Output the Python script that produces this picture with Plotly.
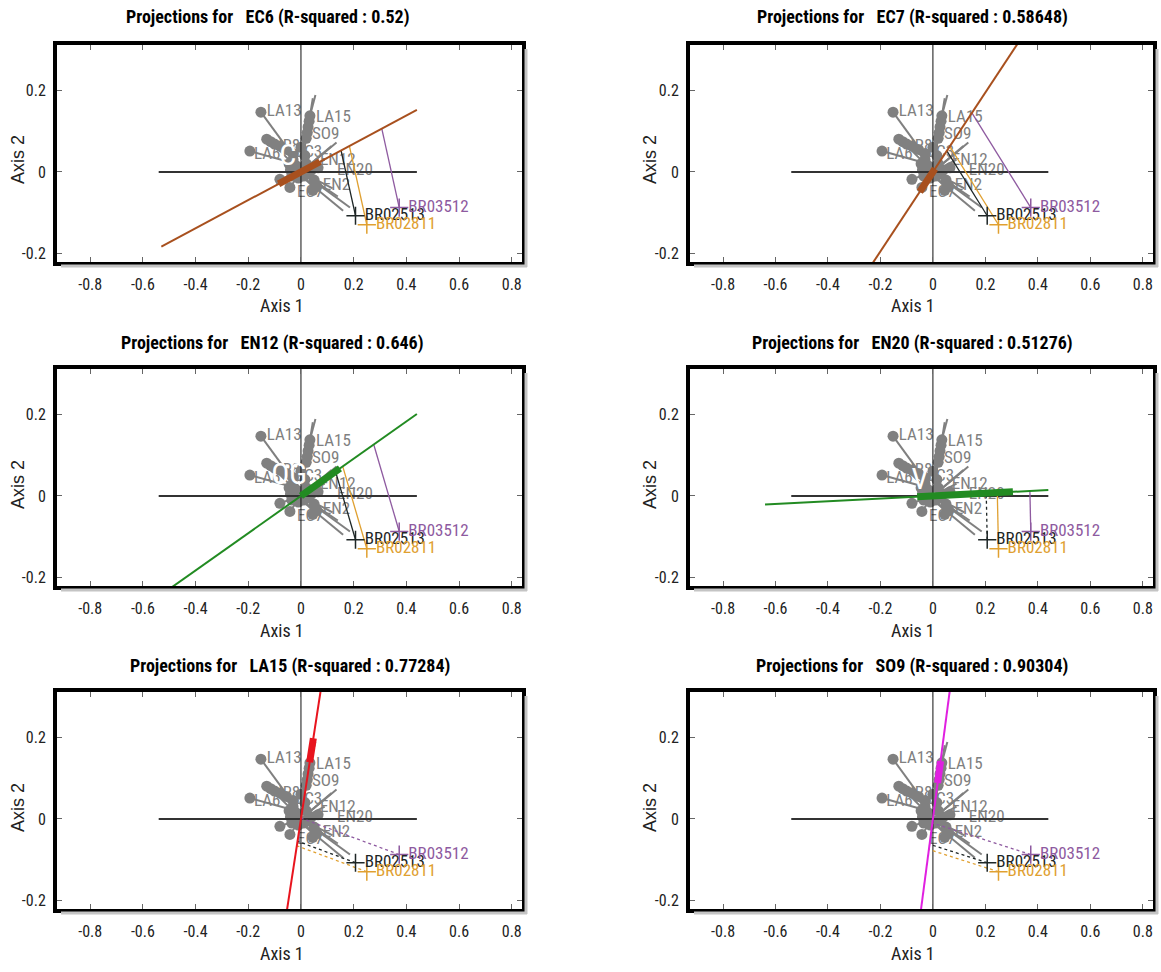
import plotly.graph_objects as go

# ---- panel definitions -------------------------------------------------
panel_vars = ["EC6", "EC7", "EN12", "EN20", "LA15", "SO9"]
r_squared = ["0.52", "0.58648", "0.646", "0.51276", "0.77284", "0.90304"]
axis_slopes = [0.344, 0.97, 0.455, 0.033, 4.19, 4.87]
line_colors = ["#A8501E", "#A8501E", "#228B22", "#228B22", "#E8141E", "#E020E0"]
line_x_start = [-0.53, -0.53, -0.54, -0.64, -0.06, -0.05]
line_x_end = [0.44, 0.44, 0.44, 0.44, 0.08, 0.07]
thick_x_start = [-0.085, -0.05, 0.0, -0.06, 0.033, 0.018]
thick_x_end = [0.072, 0.008, 0.148, 0.305, 0.047, 0.029]
proj_dash = [
    ["solid", "solid", "solid"],
    ["solid", "solid", "solid"],
    ["solid", "solid", "solid"],
    ["dot", "solid", "solid"],
    ["dot", "dot", "dot"],
    ["dot", "dot", "dot"],
]
white_text = ["C", "", "OG", "V", "", ""]
white_x = [-0.05, 0, -0.045, -0.05, 0, 0]
white_y = [0.035, 0, 0.047, 0.035, 0, 0]

# ---- samples -----------------------------------------------------------
sample_names = ["BR02513", "BR02811", "BR03512"]
sample_x = [0.207, 0.250, 0.373]
sample_y = [-0.107, -0.129, -0.087]
sample_colors = ["#1E2626", "#E0A030", "#8E5AA0"]

# ---- variable cloud (grey) ----------------------------------------------
circle_x = [-0.152, 0.034, 0.031, 0.027, 0.024, 0.020, -0.130, -0.115, -0.100,
            -0.080, -0.194, -0.080, -0.042, -0.030, -0.025, -0.020, -0.010,
            0.010, 0.020, 0.040, 0.050, 0.060, -0.035, -0.030, 0.015, -0.055,
            -0.045, 0.000, 0.045, -0.040, -0.015, 0.030, 0.065]
circle_y = [0.146, 0.137, 0.124, 0.110, 0.096, 0.082, 0.080, 0.074, 0.068,
            0.063, 0.051, -0.018, -0.038, 0.030, 0.015, 0.000, -0.015,
            -0.010, 0.020, 0.005, -0.020, -0.035, -0.010, 0.045, 0.040, 0.055,
            0.020, 0.060, -0.045, 0.005, 0.010, -0.005, 0.010]
seg_x0 = [-0.152, 0.034, 0.030, 0.028, -0.130, -0.111, -0.080, -0.194, -0.080,
          -0.042, 0.000, 0.000, 0.000, 0.000, 0.000, 0.000, 0.000, 0.000, 0.000]
seg_y0 = [0.146, 0.137, 0.120, 0.118, 0.080, 0.072, 0.063, 0.051, -0.018,
          -0.038, 0.000, 0.000, 0.000, -0.010, 0.000, 0.000, 0.000, 0.000, 0.000]
seg_x1 = [-0.020, 0.055, 0.045, 0.000, 0.000, 0.000, 0.000, -0.020, 0.000,
          0.000, 0.135, 0.116, 0.186, 0.160, 0.200, 0.120, 0.090, 0.140, 0.060]
seg_y1 = [0.030, 0.188, 0.180, 0.000, 0.020, 0.000, 0.010, 0.020, 0.000,
          0.000, 0.072, 0.063, -0.087, -0.095, 0.000, -0.040, 0.030, -0.060, -0.050]
var_labels = ["LA13", "LA15", "SO9", "IR8", "EC3", "LA6", "EN12", "EN20", "EN2", "EC7"]
var_label_x = [-0.130, 0.057, 0.042, -0.085, -0.020, -0.178, 0.072, 0.137, 0.083, -0.015]
var_label_y = [0.147, 0.133, 0.092, 0.062, 0.047, 0.042, 0.027, 0.002, -0.034, -0.052]

x_ticks = [-0.8, -0.6, -0.4, -0.2, 0, 0.2, 0.4, 0.6, 0.8]
x_tick_text = ["-0.8", "-0.6", "-0.4", "-0.2", "0", "0.2", "0.4", "0.6", "0.8"]
y_ticks = [-0.2, 0, 0.2]
y_tick_text = ["-0.2", "0", "0.2"]

X_RANGE = [-0.926, 0.839]
Y_RANGE = [-0.22, 0.31]
H_LINE = [-0.54, 0.44]

# ---- layout geometry ----------------------------------------------------
W, H = 1161, 972
col_px = [(57, 522), (690, 1153)]
row_px = [(45, 262), (369, 586), (692, 909)]
title_cx = [268, 912, 272, 912, 290, 912]
axis1_cx = [282, 913]
row_title_y = [17, 343, 666]
row_axis1_y = [305, 630, 953]
row_axis2_y = [160, 485, 808]
axis2_cx = [18, 650]

FONT = "Roboto Condensed, Liberation Sans Narrow, sans-serif"
GREY = "#808080"

fig = go.Figure()
annotations = []
shapes = []

for i, var in enumerate(panel_vars):
    r, c = divmod(i, 2)
    n = i + 1
    xa = "x" if n == 1 else f"x{n}"
    ya = "y" if n == 1 else f"y{n}"
    kw = dict(xaxis=xa, yaxis=ya, showlegend=False, hoverinfo="skip")

    # grey variable segments
    gx, gy = [], []
    for a, b, cc, d in zip(seg_x0, seg_y0, seg_x1, seg_y1):
        gx += [a, cc, None]
        gy += [b, d, None]
    fig.add_trace(go.Scatter(x=gx, y=gy, mode="lines",
                             line=dict(color=GREY, width=2), **kw))
    # grey labels
    fig.add_trace(go.Scatter(x=var_label_x, y=var_label_y, mode="text",
                             text=var_labels, textposition="middle right",
                             textfont=dict(family=FONT, size=17, color=GREY), **kw))
    # grey circles
    fig.add_trace(go.Scatter(x=circle_x, y=circle_y, mode="markers",
                             marker=dict(color=GREY, size=11, line=dict(width=0)), **kw))

    # reference axes inside the plot
    fig.add_trace(go.Scatter(x=H_LINE, y=[0, 0], mode="lines",
                             line=dict(color="#333333", width=2), **kw))
    fig.add_trace(go.Scatter(x=[0, 0], y=Y_RANGE, mode="lines",
                             line=dict(color="#111111", width=1), **kw))

    s = axis_slopes[i]
    col = line_colors[i]
    # projections of samples onto the variable direction
    for k in range(len(sample_names)):
        px, py = sample_x[k], sample_y[k]
        t = (px + s * py) / (1 + s * s)
        fig.add_trace(go.Scatter(x=[px, t], y=[py, s * t], mode="lines",
                                 line=dict(color=sample_colors[k], width=1.3,
                                           dash=proj_dash[i][k]), **kw))

    # variable direction line and its thick arrow part
    fig.add_trace(go.Scatter(x=[line_x_start[i], line_x_end[i]],
                             y=[s * line_x_start[i], s * line_x_end[i]],
                             mode="lines", line=dict(color=col, width=2), **kw))
    fig.add_trace(go.Scatter(x=[thick_x_start[i], thick_x_end[i]],
                             y=[s * thick_x_start[i], s * thick_x_end[i]],
                             mode="lines", line=dict(color=col, width=7), **kw))

    if white_text[i]:
        fig.add_trace(go.Scatter(x=[white_x[i]], y=[white_y[i]], mode="text",
                                 text=[white_text[i]],
                                 textfont=dict(family=FONT, size=30, color="white"), **kw))

    # samples
    fig.add_trace(go.Scatter(x=sample_x, y=sample_y, mode="markers+text",
                             text=sample_names, textposition="middle right",
                             marker=dict(symbol="cross-thin-open", size=13,
                                         color=sample_colors,
                                         line=dict(color=sample_colors, width=1.5)),
                             textfont=dict(family=FONT, size=17, color=sample_colors),
                             **kw))

    x0, x1 = col_px[c]
    y0, y1 = row_px[r]
    ax_common = dict(showgrid=False, zeroline=False, showline=True, linewidth=4,
                     linecolor="black", mirror="ticks", ticks="inside", ticklen=5,
                     tickwidth=1, tickcolor="#666666",
                     tickfont=dict(family=FONT, size=16, color="#222222"))
    fig.layout[f"xaxis{n if n > 1 else ''}"] = dict(
        domain=[x0 / W, x1 / W], range=X_RANGE, anchor=ya,
        tickvals=x_ticks, ticktext=x_tick_text, ticklabelstandoff=5, **ax_common)
    fig.layout[f"yaxis{n if n > 1 else ''}"] = dict(
        domain=[1 - y1 / H, 1 - y0 / H], range=Y_RANGE, anchor=xa,
        tickvals=y_ticks, ticktext=y_tick_text, ticklabelstandoff=4, **ax_common)

    # soft shadow along the right and bottom edges of the frame
    shapes.append(dict(type="line", xref="paper", yref="paper",
                       x0=(x1 + 4) / W, x1=(x1 + 4) / W,
                       y0=1 - (y0 + 4) / H, y1=1 - (y1 + 5) / H,
                       line=dict(color="#C4C4C4", width=3)))
    shapes.append(dict(type="line", xref="paper", yref="paper",
                       x0=(x0 + 4) / W, x1=(x1 + 5) / W,
                       y0=1 - (y1 + 4) / H, y1=1 - (y1 + 4) / H,
                       line=dict(color="#C4C4C4", width=3)))

    annotations.append(dict(
        text=f"<b>Projections for\u00a0\u00a0\u00a0{var} (R-squared : {r_squared[i]})</b>",
        x=title_cx[i] / W, y=1 - row_title_y[r] / H, xref="paper", yref="paper",
        showarrow=False, xanchor="center", yanchor="middle",
        font=dict(family=FONT, size=18, color="black")))
    annotations.append(dict(
        text="Axis 1", x=axis1_cx[c] / W, y=1 - row_axis1_y[r] / H,
        xref="paper", yref="paper", showarrow=False, xanchor="center",
        yanchor="middle", font=dict(family=FONT, size=18, color="#222222")))
    annotations.append(dict(
        text="Axis 2", x=axis2_cx[c] / W, y=1 - row_axis2_y[r] / H,
        xref="paper", yref="paper", showarrow=False, xanchor="center",
        yanchor="middle", textangle=-90,
        font=dict(family="Liberation Sans, Arial, sans-serif", size=18, color="#222222")))

fig.update_layout(width=W, height=H, margin=dict(l=0, r=0, t=0, b=0),
                  paper_bgcolor="white", plot_bgcolor="white",
                  annotations=annotations, shapes=shapes)
fig.write_html("out.html")
